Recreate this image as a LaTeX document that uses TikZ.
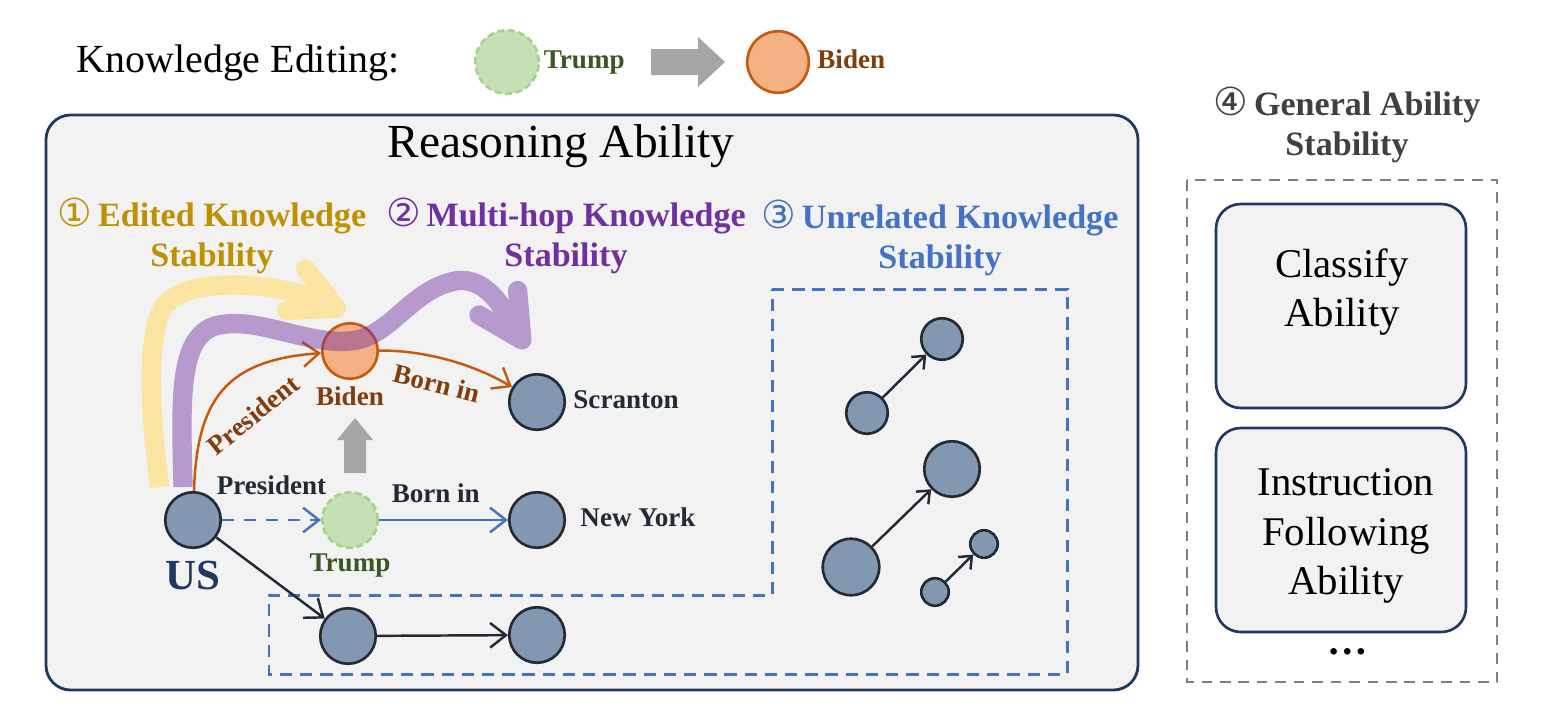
\documentclass[tikz,border=0pt]{standalone}
\usepackage{fontspec}
\setmainfont{Liberation Serif}
\newfontfamily\circfont{DejaVu Sans}
\usetikzlibrary{arrows.meta, positioning}

\definecolor{nodefill}{HTML}{8497B0}
\definecolor{nodeline}{HTML}{222A35}
\definecolor{bidenfill}{HTML}{F4B183}
\definecolor{bidenline}{HTML}{C55A11}
\definecolor{bidentext}{HTML}{843C0C}
\definecolor{trumpfill}{HTML}{C5E0B4}
\definecolor{trumpline}{HTML}{A9D18E}
\definecolor{trumptext}{HTML}{385723}
\definecolor{editgold}{HTML}{BF9000}
\definecolor{editlight}{HTML}{FCE4A2}
\definecolor{hoppurple}{HTML}{7030A0}
\definecolor{unrelblue}{HTML}{4472C4}
\definecolor{boxnavy}{HTML}{1F3864}
\definecolor{panelgray}{HTML}{F2F2F2}
\definecolor{arrowgray}{HTML}{A6A6A6}
\definecolor{titlegray}{HTML}{404040}
\definecolor{dashgray}{HTML}{7F7F7F}

\newcommand{\circnum}[1]{{\circfont\mdseries\fontsize{22pt}{23pt}\selectfont #1}}

\tikzset{
  entity/.style={circle, draw=nodeline, fill=nodefill, line width=1.5pt, inner sep=0pt, minimum size=1.11cm},
  oldent/.style={circle, draw=trumpline, fill=trumpfill, line width=1.5pt, dash pattern=on 4pt off 2pt, inner sep=0pt, minimum size=1.11cm},
  newent/.style={circle, draw=bidenline, fill=bidenfill, line width=1.5pt, inner sep=0pt, minimum size=1.11cm},
  entlbl/.style={inner sep=0pt, text=nodeline, text height=10.5pt, text depth=3pt, font=\bfseries\fontsize{15.4pt}{18pt}\selectfont},
  rel/.style={line width=1.4pt, -{Straight Barb[length=9pt, width=14pt]}},
  smallrel/.style={line width=1.4pt, nodeline, -{Straight Barb[length=6pt, width=10pt]}},
  cat/.style={font=\bfseries\fontsize{19.4pt}{23pt}\selectfont, align=center, inner sep=0pt},
  ability/.style={draw=boxnavy, fill=panelgray, line width=1.5pt, rounded corners=14pt, minimum width=5.0cm, minimum height=4.08cm},
  abilitytxt/.style={font=\fontsize{23.2pt}{28pt}\selectfont, align=center, inner sep=0pt},
  bigarrow/.style={line width=11pt, -{Straight Barb[round, length=25pt, width=26pt]}}
}

\begin{document}
\begin{tikzpicture}[x=0.02cm, y=-0.02cm]
  \useasboundingbox (0,0) rectangle (1545,724);

  % legend
  \node (edit) at (238,63) {\fontsize{22.7pt}{27pt}\selectfont Knowledge Editing:};
  \node[oldent, minimum size=1.27cm] (legold) at (507,62) {};
  \node[entlbl, text=trumptext, right=2pt of legold] (legoldtxt) {Trump};
  \fill[arrowgray] (651,49) -- (698,49) -- (698,37) -- (725,62) -- (698,87) -- (698,75) -- (651,75) -- cycle;
  \node[newent, minimum size=1.23cm] (legnew) at (778,62) {};
  \node[entlbl, text=bidentext, right=4pt of legnew] (legnewtxt) {Biden};

  % reasoning panel
  \draw[boxnavy, fill=panelgray, line width=1.6pt, rounded corners=14pt] (46,115) rectangle (1138,690);
  \node (reason) at (561,146) {\fontsize{27pt}{32pt}\selectfont Reasoning Ability};
  \draw[unrelblue, line width=1.7pt, dash pattern=on 7pt off 4.5pt] (772,289) -- (1067,289) -- (1067,674) -- (269,674) -- (269,595) -- (772,595) -- cycle;

  \node[cat, text=editgold] (cat1) at (212,236) {\circnum{①}\,Edited Knowledge\\Stability};
  \node[cat, text=hoppurple] (cat2) at (566,236) {\circnum{②}\,Multi-hop Knowledge\\Stability};
  \node[cat, text=unrelblue] (cat3) at (940,238) {\circnum{③}\,Unrelated Knowledge\\Stability};

  % edited knowledge path
  \draw[editlight, bigarrow] (160,487) .. controls (150,420) and (145,330) .. (165,305)
    .. controls (180,288) and (210,285) .. (235,285) .. controls (275,285) and (310,296) .. (345,312);

  % entities
  \node[entity] (us) at (193,520) {};
  \node[oldent] (trump) at (350,520) {};
  \node[entity] (ny) at (537,520) {};
  \node[newent] (biden) at (350,351) {};
  \node[entity] (scranton) at (537,402) {};
  \node[entity] (low1) at (348,636) {};
  \node[entity] (low2) at (537,635) {};

  \node[entlbl, text=boxnavy, text height=16pt, text depth=0pt, font=\bfseries\fontsize{24.4pt}{29pt}\selectfont, below=7pt of us] (uslbl) {US};
  \node[entlbl, text=trumptext, below=2pt of trump] (trumplbl) {Trump};
  \node[entlbl, text=bidentext, below=4pt of biden] (bidenlbl) {Biden};
  \node[entlbl, right=4pt of scranton] (scrantonlbl) {Scranton};
  \node[entlbl, right=8pt of ny] (nylbl) {New York};

  % relations
  \draw[rel, unrelblue, dash pattern=on 7pt off 5.5pt] (us) -- (trump) node[entlbl, midway, above=11pt] (pres1) {President};
  \draw[rel, unrelblue] (trump) -- (ny) node[entlbl, pos=0.44, above=6pt] (born1) {Born in};
  \draw[rel, bidenline] (us) .. controls (197,400) and (225,360) .. (biden);
  \draw[rel, bidenline] (biden) .. controls (420,350) and (470,362) .. (scranton);
  \node[entlbl, text=bidentext, rotate=39] (pres2) at (255,417) {President};
  \node[entlbl, text=bidentext, rotate=-14] (born2) at (436,386) {Born in};
  \draw[rel, nodeline] (us) -- (low1);
  \draw[rel, nodeline] (low1) -- (low2);
  \fill[arrowgray] (344,473) -- (344,440) -- (337,440) -- (355,418) -- (373,440) -- (366,440) -- (366,473) -- cycle;

  % unrelated knowledge
  \node[entity, minimum size=0.83cm] (ua1) at (867,413) {};
  \node[entity, minimum size=0.83cm] (ua2) at (942,339) {};
  \node[entity, minimum size=1.13cm] (uc1) at (851,567) {};
  \node[entity, minimum size=1.11cm] (uc2) at (952,469) {};
  \node[entity, minimum size=0.55cm] (ub1) at (935,592) {};
  \node[entity, minimum size=0.55cm] (ub2) at (984,544) {};
  \draw[smallrel] (ua1) -- (ua2);
  \draw[smallrel] (uc1) -- (uc2);
  \draw[smallrel] (ub1) -- (ub2);

  % multi-hop path
  \begin{scope}[transparency group, opacity=0.45]
    \draw[hoppurple, bigarrow] (183,487) .. controls (181,400) and (178,338) .. (215,326)
      .. controls (255,315) and (305,345) .. (350,341) .. controls (390,338) and (410,290) .. (455,281)
      .. controls (490,275) and (508,318) .. (527,348);
  \end{scope}

  % general ability
  \node[cat, text=titlegray] (cat4) at (1347,125) {\circnum{④}\,General Ability\\Stability};
  \draw[dashgray, line width=1.4pt, dash pattern=on 6pt off 4.5pt] (1187,180) rectangle (1497,682);
  \node[ability] (classify) at (1341,306) {};
  \node[abilitytxt] (classifytxt) at (1342,292) {Classify\\Ability};
  \node[ability] (instruct) at (1341,530) {};
  \node[abilitytxt] (instructtxt) at (1346,536) {Instruction\\Following\\Ability};
  \node[font=\bfseries\fontsize{23pt}{28pt}\selectfont] (more) at (1348,652) {…};
\end{tikzpicture}
\end{document}
